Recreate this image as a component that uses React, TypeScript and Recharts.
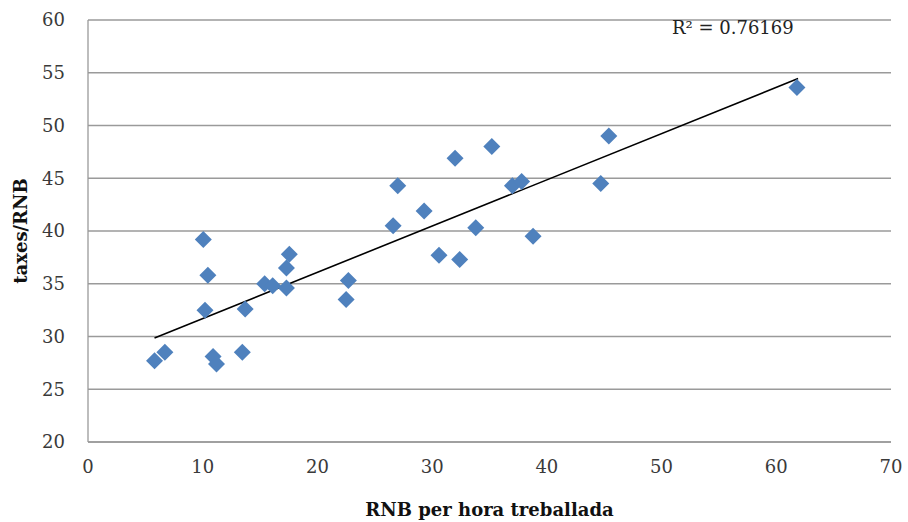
import {
  ScatterChart,
  Scatter,
  XAxis,
  YAxis,
  CartesianGrid,
  ReferenceLine,
  Label,
} from "recharts";

// RNB per hora treballada
const rnbPerHour = [
  5.8, 6.7, 10.05, 10.2, 10.45, 10.9, 11.2, 13.45, 13.7, 15.4, 16.1, 17.3,
  17.3, 17.55, 22.5, 22.7, 26.6, 27.0, 29.3, 30.6, 32.0, 32.4, 33.8, 35.2,
  37.0, 37.8, 38.8, 44.7, 45.4, 61.8,
];

// taxes/RNB
const taxesRnb = [
  27.7, 28.5, 39.2, 32.5, 35.8, 28.1, 27.4, 28.5, 32.6, 35.0, 34.8, 34.6,
  36.5, 37.8, 33.5, 35.3, 40.5, 44.3, 41.9, 37.7, 46.9, 37.3, 40.3, 48.0,
  44.3, 44.7, 39.5, 44.5, 49.0, 53.6,
];

// linear trend line end points
const trendX = [5.8, 61.9];
const trendY = [29.86, 54.45];

const xTicks = [0, 10, 20, 30, 40, 50, 60, 70];
const yTicks = [20, 25, 30, 35, 40, 45, 50, 55, 60];

const rSquared = "R\u00B2 = 0.76169";

const points = rnbPerHour.map((x, i) => ({ x, y: taxesRnb[i] }));

const FONT = "'DejaVu Serif', serif";
const GRID = "#9a9a9a";

function Diamond(props: any) {
  const { cx, cy } = props;
  const r = 8.5;
  return (
    <path
      d={`M${cx},${cy - r}L${cx + r},${cy}L${cx},${cy + r}L${cx - r},${cy}Z`}
      fill="#4F81BD"
    />
  );
}

export default function App() {
  return (
    <div
      style={{
        position: "absolute",
        left: 0,
        top: 0,
        width: 908,
        height: 522,
        background: "#fff",
        fontFamily: FONT,
      }}
    >
      <ScatterChart
        width={908}
        height={522}
        margin={{ top: 20, right: 17, left: 0, bottom: 0 }}
      >
        <CartesianGrid vertical={false} stroke={GRID} strokeWidth={1.3} />
        <XAxis
          type="number"
          dataKey="x"
          domain={[0, 70]}
          ticks={xTicks}
          height={80}
          axisLine={{ stroke: GRID, strokeWidth: 1.3 }}
          tickLine={false}
          tickSize={0}
          tickMargin={18}
          tick={{ fontSize: 18, fill: "#3a3a3a", fontFamily: FONT }}
        >
          <Label
            value="RNB per hora treballada"
            position="insideBottom"
            offset={6}
            style={{
              fontSize: 18,
              fontWeight: "bold",
              fill: "#111",
              fontFamily: FONT,
            }}
          />
        </XAxis>
        <YAxis
          type="number"
          dataKey="y"
          domain={[20, 60]}
          ticks={yTicks}
          width={88}
          axisLine={{ stroke: GRID, strokeWidth: 1.3 }}
          tickLine={false}
          tickSize={0}
          tickMargin={23}
          tick={{ fontSize: 18, fill: "#3a3a3a", fontFamily: FONT }}
        >
          <Label
            value="taxes/RNB"
            angle={-90}
            position="insideLeft"
            offset={21}
            style={{
              textAnchor: "middle",
              fontSize: 18,
              fontWeight: "bold",
              fill: "#111",
              fontFamily: FONT,
            }}
          />
        </YAxis>
        <Scatter data={points} shape={Diamond} isAnimationActive={false} />
        <ReferenceLine
          segment={[
            { x: trendX[0], y: trendY[0] },
            { x: trendX[1], y: trendY[1] },
          ]}
          stroke="#000"
          strokeWidth={1.6}
        />
      </ScatterChart>
      <div
        style={{
          position: "absolute",
          left: 672,
          top: 17,
          fontSize: 18,
          color: "#222",
          whiteSpace: "nowrap",
        }}
      >
        {rSquared}
      </div>
    </div>
  );
}
